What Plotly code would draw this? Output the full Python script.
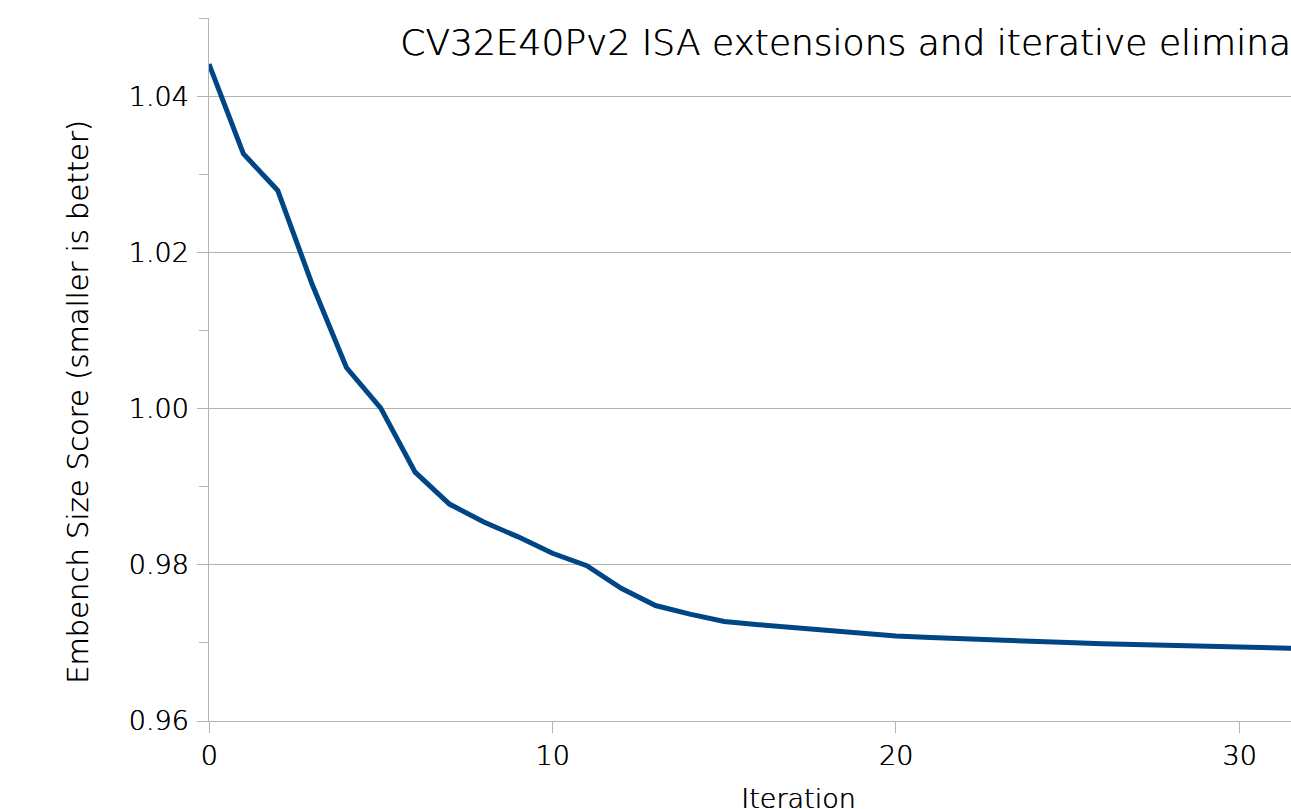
import plotly.graph_objects as go

iterations = list(range(0, 33))
scores = [1.0442, 1.0327, 1.0280, 1.0160, 1.0053, 1.0001, 0.9919, 0.9878, 0.9855, 0.9836,
          0.9815, 0.9799, 0.9770, 0.9748, 0.9737, 0.97275, 0.97235, 0.97195, 0.9716, 0.97125,
          0.9709, 0.9707, 0.9705, 0.97035, 0.9702, 0.97005, 0.9699, 0.96977, 0.96964, 0.96953,
          0.96942, 0.96933, 0.96926]

title_text = "CV32E40Pv2 ISA extensions and iterative elimination"
x_title = "Iteration"
y_title = "Embench Size Score (smaller is better)"
y_ticks = [0.96, 0.98, 1.00, 1.02, 1.04]
y_ticklabels = ["0.96", "0.98", "1.00", "1.02", "1.04"]
x_ticks = [0, 10, 20, 30]

FONT = "DejaVu Sans"
WEIGHT = 200
SHADOW = "0.5px 0 0 #000000"
W, H = 1291, 809
L, R, T, B = 209, 0, 18, 88


def fnt(size):
    return dict(family=FONT, size=size, color="#000000", weight=WEIGHT, shadow=SHADOW)


fig = go.Figure()
fig.add_trace(go.Scatter(x=iterations, y=scores, mode="lines",
                         line=dict(color="#004586", width=5), showlegend=False,
                         hoverinfo="skip"))

fig.update_layout(
    width=W, height=H,
    margin=dict(l=L, r=R, t=T, b=B, pad=0),
    paper_bgcolor="white", plot_bgcolor="white",
    font=fnt(28),
    xaxis=dict(range=[0, 31.5], tickvals=x_ticks, ticks="outside", ticklen=11,
               tickcolor="#b3b3b3", tickwidth=1, showline=True, linecolor="#b3b3b3",
               linewidth=1, showgrid=False, zeroline=False,
               tickfont=fnt(27)),
    yaxis=dict(range=[0.96, 1.0501], tickvals=y_ticks, ticktext=y_ticklabels,
               ticks="outside", ticklen=11, tickcolor="#b3b3b3", tickwidth=1,
               showline=True, linecolor="#b3b3b3", linewidth=1,
               showgrid=True, gridcolor="#b3b3b3", gridwidth=1, zeroline=False,
               ticklabelstandoff=3,
               minor=dict(dtick=0.01, tick0=0.96, ticks="outside", ticklen=9,
                          tickcolor="#b3b3b3", showgrid=False),
               tickfont=fnt(27)),
)

plot_w = W - L - R
plot_h = H - T - B

fig.add_annotation(text=title_text, xref="paper", yref="paper",
                   x=(398 - L) / plot_w, y=(H - B - 42) / plot_h,
                   xanchor="left", yanchor="middle", showarrow=False,
                   font=fnt(36))
fig.add_annotation(text=x_title, xref="paper", yref="paper",
                   x=(798 - L) / plot_w, y=(H - B - 781) / plot_h,
                   xanchor="center", yanchor="top", showarrow=False,
                   font=fnt(27))
fig.add_annotation(text=y_title, xref="paper", yref="paper",
                   x=(78 - L) / plot_w, y=(H - B - 402) / plot_h,
                   xanchor="center", yanchor="middle", textangle=-90, showarrow=False,
                   font=fnt(29))

fig.write_html("out.html")
